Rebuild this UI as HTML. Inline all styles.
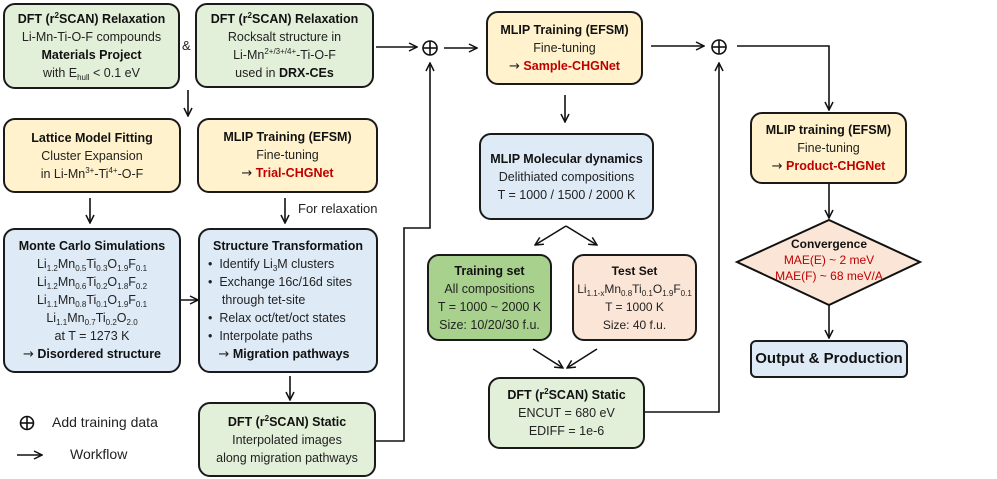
<!DOCTYPE html>
<html><head><meta charset="utf-8"><style>
body{margin:0;width:997px;height:479px;background:#fff;position:relative;overflow:hidden;font-family:"Liberation Sans",sans-serif;color:#222}
.b{position:absolute;box-sizing:border-box;border:2px solid #1a1a1a;border-radius:12px;text-align:center;font-size:12.5px;line-height:18px;display:flex;flex-direction:column;justify-content:center}
.g{background:#e2efd9}.y{background:#fff2cc}.bl{background:#deebf7}.dg{background:#a9d18e}.pe{background:#fbe5d6}
b{font-weight:bold;color:#111}
.r{color:#c00000;font-weight:bold}
.ar{font-family:"DejaVu Sans",sans-serif;font-size:13px}
sub{font-size:8px;line-height:0;vertical-align:-3px}sup{font-size:8px;line-height:0;vertical-align:5px}
.t{position:absolute;font-size:13px}
ul{margin:0;padding:0 0 0 8px;text-align:left;list-style:none}
</style></head><body>
<svg width="997" height="479" style="position:absolute;left:0;top:0">
<defs><marker id="a" markerWidth="10" markerHeight="10" refX="9" refY="5" orient="auto" markerUnits="userSpaceOnUse"><path d="M1,1 L9,5 L1,9" fill="none" stroke="#111" stroke-width="1.5"/></marker></defs>
<g stroke="#111" stroke-width="1.6" fill="none">
<line x1="376" y1="47" x2="417" y2="47" marker-end="url(#a)"/>
<line x1="444" y1="48" x2="477" y2="48" marker-end="url(#a)"/>
<line x1="651" y1="46" x2="704" y2="46" marker-end="url(#a)"/>
<polyline points="737,46 829,46 829,110" marker-end="url(#a)"/>
<polyline points="376,441 404,441 404,228 430,228 430,63" marker-end="url(#a)"/>
<polyline points="645,412 719,412 719,63" marker-end="url(#a)"/>
<line x1="829" y1="183" x2="829" y2="218" marker-end="url(#a)"/>
<line x1="829" y1="305" x2="829" y2="338" marker-end="url(#a)"/>
<line x1="565" y1="95" x2="565" y2="122" marker-end="url(#a)"/>
<line x1="566" y1="226" x2="535" y2="245" marker-end="url(#a)"/>
<line x1="566" y1="226" x2="597" y2="245" marker-end="url(#a)"/>
<line x1="533" y1="349" x2="563" y2="368" marker-end="url(#a)"/>
<line x1="597" y1="349" x2="567" y2="368" marker-end="url(#a)"/>
<line x1="188" y1="90" x2="188" y2="116" marker-end="url(#a)"/>
<line x1="90" y1="198" x2="90" y2="223" marker-end="url(#a)"/>
<line x1="285" y1="198" x2="285" y2="223" marker-end="url(#a)"/>
<line x1="180" y1="300" x2="198" y2="300" marker-end="url(#a)"/>
<line x1="290" y1="376" x2="290" y2="400" marker-end="url(#a)"/>
<line x1="17" y1="455" x2="42" y2="455" marker-end="url(#a)"/>
<circle cx="430" cy="48" r="7"/><line x1="423" y1="48" x2="437" y2="48"/><line x1="430" y1="41" x2="430" y2="55"/>
<circle cx="719" cy="47" r="7"/><line x1="712" y1="47" x2="726" y2="47"/><line x1="719" y1="40" x2="719" y2="54"/>
<circle cx="27" cy="423" r="6.5"/><line x1="20.5" y1="423" x2="33.5" y2="423"/><line x1="27" y1="416.5" x2="27" y2="429.5"/>
<polygon points="829,220 920,262 829,305 737,262" fill="#fbe5d6" stroke-width="2"/>
</g></svg>
<div class="b g" style="left:3px;top:3px;width:177px;height:86px"><b>DFT (r<sup>2</sup>SCAN) Relaxation</b><span>Li-Mn-Ti-O-F compounds</span><b>Materials Project</b><span>with E<sub>hull</sub> &lt; 0.1 eV</span></div>
<div class="t" style="left:182px;top:38px">&amp;</div>
<div class="b g" style="left:195px;top:3px;width:179px;height:85px"><b>DFT (r<sup>2</sup>SCAN) Relaxation</b><span>Rocksalt structure in</span><span>Li-Mn<sup>2+/3+/4+</sup>-Ti-O-F</span><span>used in <b>DRX-CEs</b></span></div>
<div class="b y" style="left:3px;top:118px;width:178px;height:75px"><b>Lattice Model Fitting</b><span>Cluster Expansion</span><span>in Li-Mn<sup>3+</sup>-Ti<sup>4+</sup>-O-F</span></div>
<div class="b y" style="left:197px;top:118px;width:181px;height:75px"><b>MLIP Training (EFSM)</b><span>Fine-tuning</span><span><span class="ar">→</span> <span class="r">Trial-CHGNet</span></span></div>
<div class="t" style="left:298px;top:201px">For relaxation</div>
<div class="b bl" style="left:3px;top:228px;width:178px;height:145px;line-height:18px"><b>Monte Carlo Simulations</b><span>Li<sub>1.2</sub>Mn<sub>0.5</sub>Ti<sub>0.3</sub>O<sub>1.9</sub>F<sub>0.1</sub></span><span>Li<sub>1.2</sub>Mn<sub>0.6</sub>Ti<sub>0.2</sub>O<sub>1.8</sub>F<sub>0.2</sub></span><span>Li<sub>1.1</sub>Mn<sub>0.8</sub>Ti<sub>0.1</sub>O<sub>1.9</sub>F<sub>0.1</sub></span><span>Li<sub>1.1</sub>Mn<sub>0.7</sub>Ti<sub>0.2</sub>O<sub>2.0</sub></span><span>at T = 1273 K</span><span><span class="ar">→</span> <b>Disordered structure</b></span></div>
<div class="b bl" style="left:198px;top:228px;width:180px;height:145px"><b>Structure Transformation</b><ul><li>•&nbsp; Identify Li<sub>3</sub>M clusters</li><li>•&nbsp; Exchange 16c/16d sites</li><li>&nbsp;&nbsp;&nbsp; through tet-site</li><li>•&nbsp; Relax oct/tet/oct states</li><li>•&nbsp; Interpolate paths</li><li>&nbsp;&nbsp;&nbsp;<span class="ar">→</span> <b>Migration pathways</b></li></ul></div>
<div class="t" style="left:52px;top:414px;font-size:14px">Add training data</div>
<div class="t" style="left:70px;top:446px;font-size:14px">Workflow</div>
<div class="b g" style="left:198px;top:402px;width:178px;height:75px"><b>DFT (r<sup>2</sup>SCAN) Static</b><span>Interpolated images</span><span>along migration pathways</span></div>
<div class="b y" style="left:486px;top:11px;width:157px;height:74px"><b>MLIP Training (EFSM)</b><span>Fine-tuning</span><span><span class="ar">→</span> <span class="r">Sample-CHGNet</span></span></div>
<div class="b bl" style="left:479px;top:133px;width:175px;height:87px"><b>MLIP Molecular dynamics</b><span>Delithiated compositions</span><span>T = 1000 / 1500 / 2000 K</span></div>
<div class="b dg" style="left:427px;top:254px;width:125px;height:87px"><b>Training set</b><span>All compositions</span><span>T = 1000 ~ 2000 K</span><span>Size: 10/20/30 f.u.</span></div>
<div class="b pe" style="left:572px;top:254px;width:125px;height:87px;font-size:12px"><b>Test Set</b><span>Li<sub>1.1-x</sub>Mn<sub>0.8</sub>Ti<sub>0.1</sub>O<sub>1.9</sub>F<sub>0.1</sub></span><span>T = 1000 K</span><span>Size: 40 f.u.</span></div>
<div class="b g" style="left:488px;top:377px;width:157px;height:72px"><b>DFT (r<sup>2</sup>SCAN) Static</b><span>ENCUT = 680 eV</span><span>EDIFF = 1e-6</span></div>
<div class="b y" style="left:750px;top:112px;width:157px;height:72px"><b>MLIP training (EFSM)</b><span>Fine-tuning</span><span><span class="ar">→</span> <span class="r">Product-CHGNet</span></span></div>
<div class="t" style="left:769px;top:236px;width:120px;text-align:center;font-size:12px;line-height:16px;white-space:nowrap"><b>Convergence</b><br><span style="color:#c00000">MAE(E) ~ 2 meV</span><br><span style="color:#c00000">MAE(F) ~ 68 meV/A</span></div>
<div class="b bl" style="left:750px;top:340px;width:158px;height:38px;border-radius:6px;font-size:15px"><b>Output &amp; Production</b></div>
</body></html>
